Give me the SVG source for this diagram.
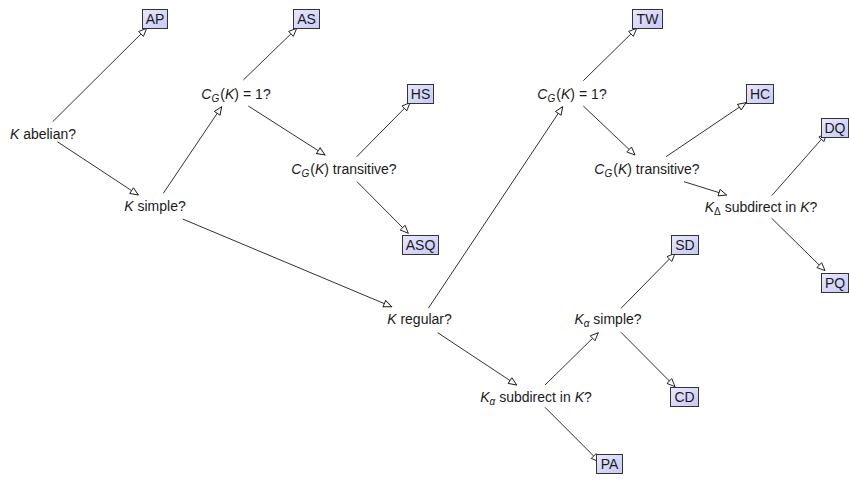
<svg xmlns="http://www.w3.org/2000/svg" width="849" height="481" viewBox="0 0 849 481">
<style>
  text { font-family: "Liberation Sans", "DejaVu Sans", sans-serif; font-size: 14px; fill: #1a1a1a; }
  .q { text-anchor: middle; }
  .m { font-style: italic; }
  .sub { font-size: 10px; }
  .box rect { fill: url(#boxfill); stroke: #333; stroke-width: 1; }
  .box text { text-anchor: middle; }
  .edge { stroke: #1a1a1a; stroke-width: 0.9; fill: none; marker-end: url(#tri); }
</style>
<defs>
  <linearGradient id="boxfill" x1="0" y1="0" x2="1" y2="1">
    <stop offset="0" stop-color="#e8e8ff"/>
    <stop offset="1" stop-color="#c8c8f4"/>
  </linearGradient>
  <marker id="tri" viewBox="-10 -5 11 10" refX="0" refY="0" markerWidth="11" markerHeight="10" markerUnits="userSpaceOnUse" orient="auto">
    <path d="M0,0 L-8,-3.4 L-8,3.4 Z" fill="#fff" stroke="#1a1a1a" stroke-width="0.9" stroke-linejoin="miter"/>
  </marker>
</defs>

<g id="connectors">
  <line class="edge" x1="52.7" y1="121.7" x2="146.7" y2="28.3"/>
  <line class="edge" x1="57.3" y1="141.7" x2="138.3" y2="195"/>
  <line class="edge" x1="163.3" y1="193.3" x2="221.7" y2="106.7"/>
  <line class="edge" x1="243.3" y1="80" x2="296.7" y2="28.3"/>
  <line class="edge" x1="248.3" y1="106" x2="325" y2="155"/>
  <line class="edge" x1="356.7" y1="156.7" x2="410" y2="102.7"/>
  <line class="edge" x1="357" y1="181.7" x2="408.3" y2="233.3"/>
  <line class="edge" x1="182.7" y1="219" x2="391.7" y2="306.7"/>
  <line class="edge" x1="428.3" y1="308.3" x2="562.7" y2="106.7"/>
  <line class="edge" x1="583.3" y1="80.7" x2="636.7" y2="28.3"/>
  <line class="edge" x1="583.3" y1="106" x2="635" y2="155"/>
  <line class="edge" x1="666" y1="156.7" x2="746" y2="102.7"/>
  <line class="edge" x1="684" y1="181.7" x2="726.7" y2="195"/>
  <line class="edge" x1="771.7" y1="195.7" x2="826.7" y2="133.3"/>
  <line class="edge" x1="771.7" y1="218.3" x2="825" y2="270.7"/>
  <line class="edge" x1="437.7" y1="332.7" x2="516.7" y2="385"/>
  <line class="edge" x1="545" y1="385" x2="598.3" y2="332.7"/>
  <line class="edge" x1="621" y1="308.3" x2="675" y2="253.3"/>
  <line class="edge" x1="621" y1="332.3" x2="675" y2="386.7"/>
  <line class="edge" x1="545" y1="407.3" x2="599.3" y2="461.7"/>
</g>

<g id="q-abelian"><text class="q" x="43" y="139"><tspan class="m">K</tspan> abelian?</text></g>
<g id="q-simple"><text class="q" x="155" y="211"><tspan class="m">K</tspan> simple?</text></g>
<g id="q-cg1-left"><text class="q" x="236" y="99"><tspan class="m">C</tspan><tspan class="m sub" dy="3">G</tspan><tspan dy="-3" dx="1">(</tspan><tspan class="m">K</tspan>)<tspan dx="4">=</tspan><tspan dx="4">1?</tspan></text></g>
<g id="q-trans-left"><text class="q" x="344" y="173.5"><tspan class="m">C</tspan><tspan class="m sub" dy="3">G</tspan><tspan dy="-3" dx="1">(</tspan><tspan class="m">K</tspan>) transitive?</text></g>
<g id="q-regular"><text class="q" x="419.5" y="324"><tspan class="m">K</tspan> regular?</text></g>
<g id="q-cg1-right"><text class="q" x="572" y="99"><tspan class="m">C</tspan><tspan class="m sub" dy="3">G</tspan><tspan dy="-3" dx="1">(</tspan><tspan class="m">K</tspan>)<tspan dx="4">=</tspan><tspan dx="4">1?</tspan></text></g>
<g id="q-trans-right"><text class="q" x="647" y="173.5"><tspan class="m">C</tspan><tspan class="m sub" dy="3">G</tspan><tspan dy="-3" dx="1">(</tspan><tspan class="m">K</tspan>) transitive?</text></g>
<g id="q-kdelta"><text class="q" x="761" y="211.5"><tspan class="m">K</tspan><tspan class="sub" dy="3">Δ</tspan><tspan dy="-3"> subdirect in </tspan><tspan class="m">K</tspan>?</text></g>
<g id="q-kalpha-sub"><text class="q" x="536" y="401.5"><tspan class="m">K</tspan><tspan class="m sub" dy="3">α</tspan><tspan dy="-3"> subdirect in </tspan><tspan class="m">K</tspan>?</text></g>
<g id="q-kalpha-simple"><text class="q" x="608" y="324"><tspan class="m">K</tspan><tspan class="m sub" dy="3">α</tspan><tspan dy="-3"> simple?</tspan></text></g>

<g id="AP" class="box"><rect x="142.5" y="9.5" width="25" height="19"/><text x="155" y="24">AP</text></g>
<g id="AS" class="box"><rect x="293.5" y="9.5" width="26" height="19"/><text x="306.5" y="24">AS</text></g>
<g id="HS" class="box"><rect x="407.5" y="84.5" width="26" height="19"/><text x="420.5" y="99">HS</text></g>
<g id="ASQ" class="box"><rect x="402.5" y="235.5" width="36" height="19"/><text x="420.5" y="250">ASQ</text></g>
<g id="TW" class="box"><rect x="632.5" y="9.5" width="30" height="19"/><text x="647.5" y="24">TW</text></g>
<g id="HC" class="box"><rect x="746.5" y="84.5" width="27" height="19"/><text x="760" y="99">HC</text></g>
<g id="DQ" class="box"><rect x="821.5" y="118.5" width="27" height="19"/><text x="835" y="133">DQ</text></g>
<g id="PQ" class="box"><rect x="821.5" y="273.5" width="27" height="19"/><text x="835" y="288">PQ</text></g>
<g id="SD" class="box"><rect x="671.5" y="235.5" width="27" height="19"/><text x="685" y="250">SD</text></g>
<g id="CD" class="box"><rect x="670.5" y="387.5" width="28" height="19"/><text x="684.5" y="402">CD</text></g>
<g id="PA" class="box"><rect x="596.5" y="454.5" width="26" height="19"/><text x="609.5" y="469">PA</text></g>
</svg>
